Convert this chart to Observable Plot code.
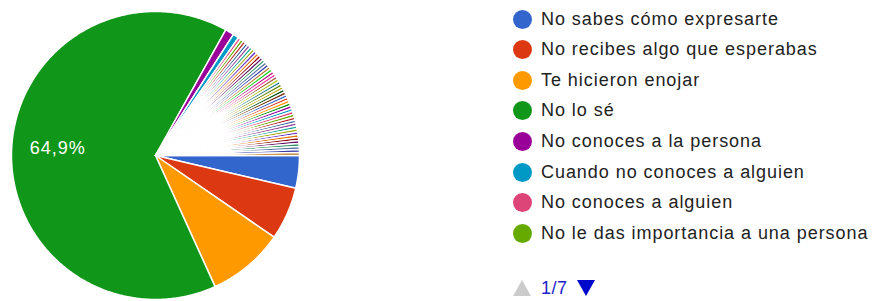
<!DOCTYPE html>
<html><head><meta charset="utf-8">
<script src="https://cdn.jsdelivr.net/npm/d3@7"></script>
<script src="https://cdn.jsdelivr.net/npm/@observablehq/plot@0.6"></script>
<style>
body{margin:0;background:#fff;font-family:"Liberation Sans",Arial,sans-serif;}
#wrap{position:relative;width:872px;height:301px;overflow:hidden;}
#chart{position:absolute;left:0;top:0;}
.item{position:absolute;left:513px;height:24px;display:flex;align-items:center;white-space:nowrap;}
.sw{width:19px;height:19px;border-radius:50%;margin-right:9px;flex:none;}
.lab{font-size:18px;letter-spacing:0.95px;color:#222;}
#pager{position:absolute;left:513px;top:278px;height:20px;display:flex;align-items:center;}
.up{width:0;height:0;border-left:9.5px solid transparent;border-right:9.5px solid transparent;border-bottom:16px solid #ccc;}
.dn{width:0;height:0;border-left:9.5px solid transparent;border-right:9.5px solid transparent;border-top:16px solid #0008cc;}
.pg{font-size:18px;letter-spacing:0.5px;color:#2222cc;margin:0 9px 0 10px;}
</style></head>
<body><div id="wrap"><div id="chart"></div><div id="legend"></div></div>
<script>
// Visible legend categories (page 1 of 7) and their response counts
const categories = ["No sabes cómo expresarte","No recibes algo que esperabas","Te hicieron enojar","No lo sé","No conoces a la persona","Cuando no conoces a alguien","No conoces a alguien","No le das importancia a una persona"];
const counts = [11, 18, 26, 196, 3, 2, 1, 1];
// Remaining categories (pages 2-7), each a thin slice of about one response
const otherCounts = [1,1,1,1,1,1,1,1,1,1,1,1,1,1,1,1,1,1,1,1,1,1,1,1,1,1,1,1,1,1,1,1,1,1,1,1,1,1,1,1,1,1,1,1];
const palette = ["#3366cc","#dc3912","#ff9900","#109618","#990099","#0099c6","#dd4477","#66aa00","#b82e2e","#316395","#994499","#22aa99","#aaaa11","#6633cc","#e67300","#8b0707","#651067","#329262","#5574a6","#3b3eac","#b77322","#16d620","#b91383","#f4359e","#9c5935","#a9c413","#2a778d","#668d1c","#bea413","#0c5922","#743411"];
const pageLabel = "1/7";

const values = counts.concat(otherCounts);
const ids = values.map((_, i) => i);
const total = d3.sum(values);
const arcs = d3.pie().sort(null).startAngle(Math.PI/2).endAngle(Math.PI/2 + 2*Math.PI)(values);

const pts = [];
arcs.forEach((a, i) => {
  pts.push({id: i, x: 0, y: 0});
  const n = Math.max(2, Math.ceil((a.endAngle - a.startAngle) / 0.01));
  for (let k = 0; k <= n; k++) {
    const t = a.startAngle + (a.endAngle - a.startAngle) * k / n;
    pts.push({id: i, x: Math.sin(t), y: Math.cos(t)});
  }
  pts.push({id: i, x: 0, y: 0});
});

const labels = arcs.filter(a => a.value / total > 0.2).map(a => {
  const m = (a.startAngle + a.endAngle) / 2;
  return {x: 0.68 * Math.sin(m), y: 0.68 * Math.cos(m), text: (a.value / total * 100).toFixed(1).replace(".", ",") + "%"};
});

const plot = Plot.plot({
  width: 505, height: 301,
  marginLeft: 11, marginRight: 206, marginTop: 11, marginBottom: 2,
  x: {domain: [-1, 1], axis: null},
  y: {domain: [-1, 1], axis: null},
  color: {type: "ordinal", domain: ids, range: palette},
  style: {fontFamily: "'Liberation Sans', Arial, sans-serif", background: "white", letterSpacing: "1px"},
  marks: [
    Plot.line(pts, {x: "x", y: "y", z: "id", fill: "id", stroke: "white", strokeWidth: 1.5, strokeLinejoin: "round", curve: "linear"}),
    Plot.text(labels, {x: "x", y: "y", text: "text", fill: "white", fontSize: 18, dy: -3})
  ]
});
document.getElementById("chart").appendChild(plot);

const leg = document.getElementById("legend");
categories.forEach((c, i) => {
  const it = document.createElement("div");
  it.className = "item";
  it.style.top = (19 + i * 30.6 - 12) + "px";
  const sw = document.createElement("div");
  sw.className = "sw"; sw.style.background = palette[i % palette.length];
  const lb = document.createElement("span");
  lb.className = "lab"; lb.textContent = c;
  it.appendChild(sw); it.appendChild(lb);
  leg.appendChild(it);
});
const pg = document.createElement("div");
pg.id = "pager";
pg.innerHTML = '<div class="up"></div><span class="pg"></span><div class="dn"></div>';
pg.querySelector(".pg").textContent = pageLabel;
leg.appendChild(pg);
</script>
</body></html>
